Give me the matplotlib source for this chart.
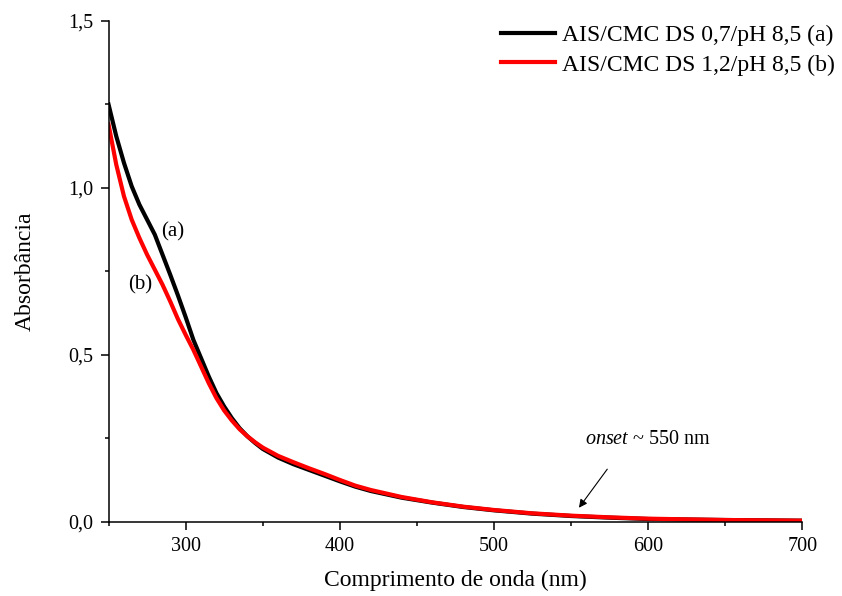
import matplotlib
matplotlib.use("Agg")
import matplotlib.pyplot as plt
from matplotlib.ticker import MultipleLocator, FuncFormatter

# wavelengths (nm) and absorbance
wl = [250, 255, 260, 265, 270, 275, 280, 285, 290, 295, 300, 305, 310, 315, 320,
      325, 330, 335, 340, 345, 350, 360, 370, 380, 390, 400, 410, 420, 440, 460,
      480, 500, 525, 550, 575, 600, 650, 700]
abs_a = [1.25, 1.155, 1.075, 1.005, 0.95, 0.905, 0.86, 0.80, 0.74, 0.678, 0.613,
         0.545, 0.49, 0.435, 0.385, 0.345, 0.31, 0.28, 0.256, 0.236, 0.218, 0.192,
         0.172, 0.155, 0.138, 0.121, 0.105, 0.092, 0.072, 0.057, 0.044, 0.034,
         0.024, 0.017, 0.012, 0.008, 0.005, 0.003]
abs_b = [1.19, 1.07, 0.975, 0.905, 0.85, 0.80, 0.755, 0.71, 0.66, 0.607, 0.56,
         0.515, 0.465, 0.415, 0.37, 0.333, 0.303, 0.277, 0.256, 0.238, 0.222, 0.197,
         0.178, 0.160, 0.143, 0.125, 0.108, 0.095, 0.074, 0.058, 0.045, 0.035,
         0.025, 0.018, 0.013, 0.009, 0.005, 0.003]
label_a = "AIS/CMC DS 0,7/pH 8,5 (a)"
label_b = "AIS/CMC DS 1,2/pH 8,5 (b)"

plt.rcParams['font.family'] = ['Liberation Serif', 'DejaVu Serif']
plt.rcParams['mathtext.fontset'] = 'custom'
plt.rcParams['mathtext.rm'] = 'Liberation Serif'
plt.rcParams['mathtext.it'] = 'Liberation Serif:italic'

fig = plt.figure(figsize=(8.42, 5.96), dpi=100)
ax = fig.add_axes([0.1289, 0.1247, 0.953 - 0.1289, 0.9648 - 0.1247])

ax.plot(wl, abs_a, color='black', lw=3, label=label_a)
ax.plot(wl, abs_b, color='#ff0000', lw=3, label=label_b)

ax.set_xlim(250, 700)
ax.set_ylim(0, 1.5)
ax.xaxis.set_major_locator(MultipleLocator(100))
ax.xaxis.set_minor_locator(MultipleLocator(50))
ax.yaxis.set_major_locator(MultipleLocator(0.5))
ax.yaxis.set_minor_locator(MultipleLocator(0.25))
ax.xaxis.set_major_formatter(FuncFormatter(lambda v, p: f"{v:.0f}"))
ax.yaxis.set_major_formatter(FuncFormatter(lambda v, p: f"{v:.1f}".replace('.', ',')))

for s in ['top', 'right']:
    ax.spines[s].set_visible(False)
for s in ['left', 'bottom']:
    ax.spines[s].set_linewidth(1.1)
ax.tick_params(which='major', direction='out', length=6, width=1.1, labelsize=14.5, pad=5)
ax.tick_params(which='minor', direction='out', length=3, width=1.1)

ax.set_xlabel("Comprimento de onda (nm)", fontsize=17, labelpad=10)
ax.set_ylabel("Absorbância", fontsize=17, labelpad=23)

ax.text(291.3, 0.869, "(a)", fontsize=15, ha='center', va='center')
ax.text(270.5, 0.71, "(b)", fontsize=15, ha='center', va='center')

ax.annotate("", xy=(554, 0.035), xytext=(574.5, 0.164),
            arrowprops=dict(arrowstyle='-|>', color='black', lw=0.8,
                            mutation_scale=12))
ax.text(558.8, 0.245, r"$\it{onset}$ ~ 550 nm", fontsize=14.5, ha='left', va='center')

ax.legend(loc='upper right', bbox_to_anchor=(0.992, 0.959), bbox_transform=fig.transFigure,
          frameon=False, fontsize=17, handlelength=2.3, handletextpad=0.3,
          labelspacing=0.35, borderpad=0, borderaxespad=0)

fig.savefig("out.png", dpi=100)
